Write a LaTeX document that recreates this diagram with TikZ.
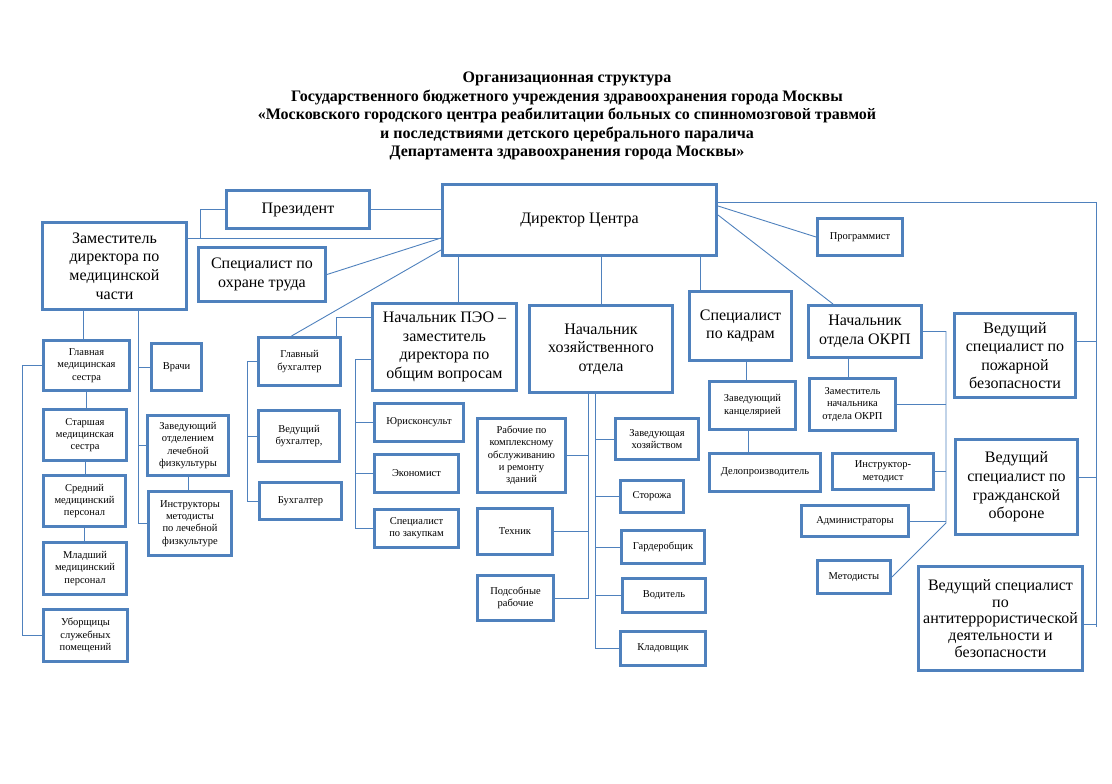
\documentclass[tikz,border=0pt]{standalone}
\usepackage{fontspec}
\setmainfont{Liberation Serif}
\definecolor{ofblue}{RGB}{79,129,189}

\begin{document}
\begin{tikzpicture}[x=1pt,y=-1pt,
  bigbox/.style={draw=ofblue,line width=3pt,align=center,inner sep=0pt,font=\fontsize{16}{18.6}\selectfont},
  smallbox/.style={draw=ofblue,line width=3pt,align=center,inner sep=0pt,font=\fontsize{10.5}{12.3}\selectfont},
  link/.style={draw=ofblue,line width=0.9pt}]
\useasboundingbox (0,0) rectangle (1112,784);

\node[font=\bfseries\fontsize{16}{18.5}\selectfont,align=center] (title) at (567,116)
  {Организационная структура\\
   Государственного бюджетного учреждения здравоохранения города Москвы\\
   «Московского городского центра реабилитации больных со спинномозговой травмой\\
   и последствиями детского церебрального паралича\\
   Департамента здравоохранения города Москвы»};

\node[bigbox,minimum width=143,minimum height=38] (pres) at (298,209.5) {Президент};
\node[bigbox,minimum width=274,minimum height=71] (dir) at (579.5,220) {Директор Центра};
\node[bigbox,minimum width=144,minimum height=87] (zam) at (114.5,266) {Заместитель\\директора по\\медицинской\\части};
\node[bigbox,minimum width=127,minimum height=54] (ohr) at (262,274.5) {Специалист по\\охране труда};
\node[smallbox,minimum width=85,minimum height=37] (prog) at (860,237) {Программист};
\node[bigbox,minimum width=144,minimum height=87] (pe) at (444.5,347) {Начальник ПЭО –\\заместитель\\директора по\\общим вопросам};
\node[bigbox,minimum width=143,minimum height=87] (hoz) at (601,349) {Начальник\\хозяйственного\\отдела};
\node[bigbox,minimum width=102,minimum height=69] (kad) at (740.5,326) {Специалист\\по кадрам};
\node[bigbox,minimum width=113,minimum height=52] (okrp) at (865,331.5) {Начальник\\отдела ОКРП};
\node[bigbox,minimum width=121,minimum height=84] (pozh) at (1015,355.5) {Ведущий\\специалист по\\пожарной\\безопасности};
\node[bigbox,minimum width=122,minimum height=95] (grazh) at (1016.5,487) {Ведущий\\специалист по\\гражданской\\обороне};
\node[bigbox,minimum width=164,minimum height=104,font=\fontsize{16}{16.8}\selectfont] (anti) at (1000.5,618.5) {Ведущий специалист\\по\\антитеррористической\\деятельности и\\безопасности};

\node[smallbox,minimum width=86,minimum height=50] (glav) at (86.5,365.5) {Главная\\медицинская\\сестра};
\node[smallbox,minimum width=50,minimum height=47] (vrach) at (176.5,367) {Врачи};
\node[smallbox,minimum width=83,minimum height=51] (star) at (85,435) {Старшая\\медицинская\\сестра};
\node[smallbox,minimum width=82,minimum height=51] (sred) at (84.5,501) {Средний\\медицинский\\персонал};
\node[smallbox,minimum width=83,minimum height=52] (mlad) at (85,568.5) {Младший\\медицинский\\персонал};
\node[smallbox,minimum width=84,minimum height=52] (ubor) at (85.5,635.5) {Уборщицы\\служебных\\помещений};
\node[smallbox,minimum width=81,minimum height=60] (zavlfk) at (188,445.5) {Заведующий\\отделением\\лечебной\\физкультуры};
\node[smallbox,minimum width=83,minimum height=64] (instrlfk) at (190,523.5) {Инструкторы\\методисты\\по лечебной\\физкультуре};

\node[smallbox,minimum width=82,minimum height=48] (gbuh) at (299.5,361.5) {Главный\\бухгалтер};
\node[smallbox,minimum width=81,minimum height=51] (vbuh) at (299,436) {Ведущий\\бухгалтер,};
\node[smallbox,minimum width=82,minimum height=37] (buh) at (300.5,501) {Бухгалтер};
\node[smallbox,minimum width=89,minimum height=38] (jur) at (419,422.5) {Юрисконсульт};
\node[smallbox,minimum width=84,minimum height=38] (econ) at (416.5,473.5) {Экономист};
\node[smallbox,minimum width=84,minimum height=38] (zakup) at (416.5,528.5) {Специалист\\по закупкам};

\node[smallbox,minimum width=88,minimum height=74] (rab) at (521.5,455.5) {Рабочие по\\комплексному\\обслуживанию\\и ремонту\\зданий};
\node[smallbox,minimum width=75,minimum height=46] (tehn) at (515,531.5) {Техник};
\node[smallbox,minimum width=76,minimum height=45] (podsob) at (515.5,598) {Подсобные\\рабочие};
\node[smallbox,minimum width=83,minimum height=41] (zavhoz) at (657,439) {Заведующая\\хозяйством};
\node[smallbox,minimum width=63,minimum height=32] (stor) at (652,496.5) {Сторожа};
\node[smallbox,minimum width=83,minimum height=33] (gard) at (663,547) {Гардеробщик};
\node[smallbox,minimum width=83,minimum height=34] (vod) at (664,595.5) {Водитель};
\node[smallbox,minimum width=85,minimum height=34] (klad) at (663,648.5) {Кладовщик};

\node[smallbox,minimum width=86,minimum height=48] (kanc) at (752.5,405.5) {Заведующий\\канцелярией};
\node[smallbox,minimum width=111,minimum height=38] (delo) at (765,472.5) {Делопроизводитель};
\node[smallbox,minimum width=86,minimum height=52] (zokrp) at (852.5,404.5) {Заместитель\\начальника\\отдела ОКРП};
\node[smallbox,minimum width=101,minimum height=36] (instm) at (883,471.5) {Инструктор-\\методист};
\node[smallbox,minimum width=107,minimum height=31] (adm) at (855,521) {Администраторы};
\node[smallbox,minimum width=73,minimum height=33] (metod) at (854,577) {Методисты};

\coordinate (j1) at (200,238);
\draw[link] (pres.east) -- (pres.east -| dir.west);
\draw[link] (zam.east |- j1) -- (dir.west |- j1);
\draw[link] (pres.west) -| (j1);
\draw[link] (ohr.east) -- (dir.west |- j1);
\draw[link] ([yshift=-30]dir.west) -- ([xshift=-8]gbuh.north);
\draw[link] ([xshift=14]pe.north) -- ([xshift=14]pe.north |- dir.south);
\draw[link] (hoz.north) -- (hoz.north |- dir.south);
\draw[link] ([xshift=-40]kad.north) -- ([xshift=-40]kad.north |- dir.south);

\coordinate (r1) at (1096,202);
\coordinate (r2) at (1096,627);
\draw[link] (dir.east |- r1) -- (r1) -- (r2);
\draw[link] ([yshift=14]pozh.east) -- ([yshift=14]pozh.east -| r1);
\draw[link] ([yshift=10]grazh.east) -- ([yshift=10]grazh.east -| r1);
\draw[link] ([yshift=-6]anti.east) -- ([yshift=-6]anti.east -| r1);
\draw[link] ([yshift=14]dir.east) -- (prog.west);
\draw[link] ([yshift=5]dir.east) -- ([xshift=-32]okrp.north);

\coordinate (o1) at (946,523);
\draw[link] (okrp.east) -| (o1) -- (metod.east);
\draw[link] (zokrp.east) -- (zokrp.east -| o1);
\draw[link] (instm.east) -- (instm.east -| o1);
\draw[link] (adm.east) -- (adm.east -| o1);
\draw[link] ([xshift=-4]zokrp.north) -- ([xshift=-4]zokrp.north |- okrp.south);
\draw[link] ([xshift=-6]kanc.north) -- ([xshift=-6]kanc.north |- kad.south);
\draw[link] ([xshift=-4]kanc.south) -- ([xshift=-4]kanc.south |- delo.north);

\coordinate (hl) at ([xshift=-13]hoz.south);
\coordinate (hr) at ([xshift=-6]hoz.south);
\draw[link] (hl) |- (podsob.east);
\draw[link] (rab.east) -- (rab.east -| hl);
\draw[link] (tehn.east) -- (tehn.east -| hl);
\draw[link] (hr) |- (klad.west);
\draw[link] (zavhoz.west) -- (zavhoz.west -| hr);
\draw[link] (stor.west) -- (stor.west -| hr);
\draw[link] (gard.west) -- (gard.west -| hr);
\draw[link] (vod.west) -- (vod.west -| hr);

\draw[link] ([yshift=-15]pe.north west) -| ([xshift=-6]gbuh.north east);
\draw[link] ([yshift=-12]pe.west) -| ([xshift=-18]zakup.west) -- (zakup.west);
\draw[link] (jur.west) -- ([xshift=-18]jur.west);
\draw[link] (econ.west) -- ([xshift=-18]econ.west);
\draw[link] (gbuh.west) -- ++(-10,0) |- (buh.west);
\draw[link] (vbuh.west) -- ++(-10,0);

\coordinate (m1) at ([xshift=23.5]zam.south);
\draw[link] ([xshift=-3]glav.north) -- ([xshift=-3]glav.north |- zam.south);
\draw[link] (m1) |- (instrlfk.west);
\draw[link] (vrach.west) -- (vrach.west -| m1);
\draw[link] (zavlfk.west) -- (zavlfk.west -| m1);
\draw[link] (zavlfk.south) -- (zavlfk.south |- instrlfk.north);
\draw[link] (glav.south) -- (glav.south |- star.north);
\draw[link] (star.south) -- (star.south |- sred.north);
\draw[link] (sred.south) -- (sred.south |- mlad.north);
\draw[link] (glav.west) -- ++(-20,0) |- (ubor.west);
\end{tikzpicture}
\end{document}
